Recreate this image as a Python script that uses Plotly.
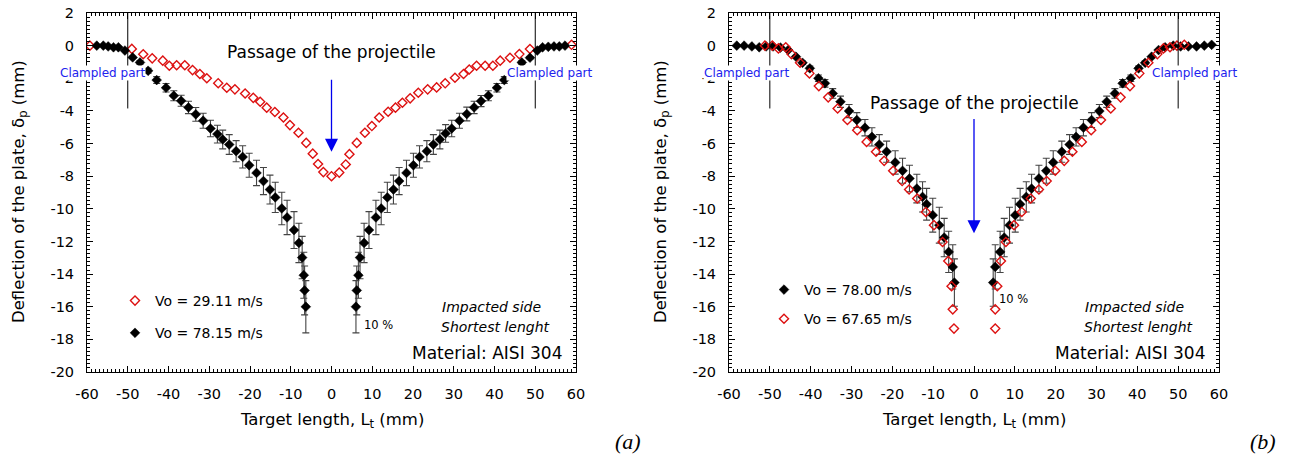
import plotly.graph_objects as go

# ---------------- data ----------------
# Panel (a)
A_RED_NAME = "Vo = 29.11 m/s"
A_RED_X = [-59.3, -49.0, -46.2, -44.0, -41.4, -39.8, -38.0, -36.0, -34.1, -32.3, -30.6, -27.8, -25.7,
           -23.7, -21.2, -19.2, -17.5, -15.9, -13.9, -11.8, -10.2, -8.1, -6.2, -4.6, -3.3, -2.0, 0.0,
           1.9, 3.5, 4.4, 6.2, 8.2, 9.9, 11.7, 13.9, 15.7, 17.4, 19.3, 21.3, 23.6, 25.8, 27.9, 30.3,
           32.4, 33.8, 35.6, 37.7, 39.6, 41.4, 43.8, 46.1, 48.7, 58.9]
A_RED_Y = [0.0, -0.2, -0.53, -0.78, -0.92, -1.23, -1.2, -1.2, -1.5, -1.74, -2.0, -2.3, -2.58,
           -2.68, -2.93, -3.2, -3.44, -3.8, -4.07, -4.4, -4.87, -5.34, -5.96, -6.62, -7.25, -7.75, -8.0,
           -7.78, -7.28, -6.65, -5.96, -5.34, -4.93, -4.4, -4.05, -3.8, -3.5, -3.23, -2.89, -2.68, -2.56,
           -2.31, -1.97, -1.74, -1.46, -1.23, -1.23, -1.23, -0.92, -0.74, -0.52, -0.21, 0.05]

A_BLK_NAME = "Vo = 78.15 m/s"
A_BLK_X = [-57.6, -56.0, -54.8, -53.5, -52.3, -50.7, -48.8, -47.0, -45.0, -42.9, -40.6, -38.7, -36.9,
           -35.1, -33.3, -31.5, -29.7, -28.0, -26.7, -25.1, -23.4, -21.8, -20.2, -18.4, -16.7, -15.1,
           -13.8, -12.2, -10.9, -9.2, -8.0, -7.2, -6.8, -6.6, -6.3,
           6.0, 6.2, 6.6, 7.0, 8.0, 9.2, 10.9, 12.2, 13.7, 15.2, 16.6, 18.4, 20.1, 21.6, 23.4, 25.0,
           26.6, 28.0, 29.5, 31.4, 33.2, 35.0, 36.7, 38.5, 40.6, 42.4, 44.6, 46.7, 48.7, 50.5, 51.8,
           53.2, 54.6, 55.9, 57.3]
A_BLK_Y = [0.0, 0.0, -0.05, -0.1, -0.1, -0.3, -0.72, -1.03, -1.54, -2.11, -2.58, -3.07, -3.38,
           -3.79, -4.21, -4.6, -5.08, -5.42, -5.75, -6.06, -6.47, -6.82, -7.33, -7.8, -8.3, -8.82,
           -9.3, -9.98, -10.53, -11.3, -12.09, -12.99, -14.07, -15.0, -16.0,
           -16.0, -15.0, -14.07, -12.99, -12.09, -11.3, -10.53, -9.98, -9.3, -8.82, -8.3, -7.8, -7.33,
           -6.82, -6.47, -6.06, -5.75, -5.38, -5.08, -4.6, -4.19, -3.79, -3.4, -3.07, -2.58, -2.11,
           -1.55, -1.03, -0.74, -0.3, -0.1, -0.07, -0.05, -0.05, 0.0]

# Panel (b)
B_BLK_NAME = "Vo = 78.00 m/s"
B_BLK_X = [-58.1, -56.3, -54.4, -52.6, -50.9, -49.2, -47.4, -45.5, -43.6, -42.0, -40.2, -38.1, -36.5,
           -34.6, -32.7, -30.6, -28.7, -26.7, -25.0, -23.2, -21.4, -19.3, -17.5, -15.8, -14.0, -12.6,
           -11.6, -10.1, -8.5, -7.3, -6.2, -5.2, -4.8,
           4.7, 5.2, 6.4, 7.4, 8.7, 10.1, 11.3, 12.8, 14.1, 15.9, 17.7, 19.4, 21.5, 23.4, 25.0, 26.8,
           28.8, 30.7, 32.5, 34.5, 36.4, 38.4, 40.3, 41.9, 43.5, 45.2, 46.8, 48.8, 50.6, 52.5, 54.5,
           56.4, 58.2]
B_BLK_Y = [0.0, 0.0, -0.05, -0.1, -0.05, -0.05, -0.12, -0.27, -0.68, -1.05, -1.39, -2.0, -2.31,
           -2.93, -3.44, -4.01, -4.56, -5.03, -5.59, -6.06, -6.5, -7.16, -7.67, -8.14, -8.76, -9.27,
           -9.72, -10.39, -11.0, -11.76, -12.64, -13.56, -14.52,
           -14.52, -13.56, -12.64, -11.76, -11.0, -10.39, -9.72, -9.27, -8.76, -8.14, -7.67, -7.16,
           -6.5, -6.06, -5.59, -5.03, -4.56, -4.01, -3.44, -2.93, -2.31, -2.0, -1.39, -1.05, -0.68,
           -0.27, -0.1, 0.0, -0.05, -0.05, -0.05, 0.0, 0.05]

B_RED_NAME = "Vo = 67.65 m/s"
B_RED_X = [-51.2, -49.4, -47.9, -46.1, -44.7, -42.6, -40.3, -38.0, -35.7, -33.4, -31.0, -28.6, -26.3,
           -24.0, -22.0, -19.8, -17.6, -15.9, -13.9, -11.8, -9.8, -7.7, -6.3, -5.5, -5.2, -4.9,
           5.2, 5.2, 5.7, 6.6, 7.8, 9.8, 11.7, 13.9, 15.9, 17.8, 19.9, 22.1, 24.1, 26.4, 28.7, 31.1,
           33.5, 35.9, 38.2, 40.5, 42.7, 44.9, 46.4, 48.0, 49.7, 51.5]
B_RED_Y = [0.0, 0.0, -0.17, -0.1, -0.52, -1.05, -1.7, -2.48, -3.17, -3.85, -4.56, -5.18, -5.9,
           -6.5, -7.06, -7.67, -8.3, -8.82, -9.37, -10.19, -11.0, -12.03, -13.2, -14.74, -16.16, -17.34,
           -17.34, -16.16, -14.74, -13.2, -12.03, -11.0, -10.19, -9.37, -8.82, -8.3, -7.67, -7.06,
           -6.5, -5.9, -5.18, -4.56, -3.85, -3.17, -2.48, -1.7, -1.05, -0.52, -0.17, -0.1, 0.0, 0.05]

ERR_PERCENT = 10
X_TICKS = list(range(-60, 61, 10))
Y_TICKS = list(range(-20, 3, 2))
X_TICKTEXT = [str(v) for v in X_TICKS]
Y_TICKTEXT = [str(v) for v in Y_TICKS]
CLAMP_X = [-50, 50]

# ---------------- style ----------------
W, H = 1296, 454
FONT = "DejaVu Sans, Verdana, sans-serif"
RED = "#dd1111"
BLUE = "#0000ee"
TXT_BLUE = "#2222ee"


def px(x):
    return x / W


def py(y):
    return (H - y) / H


fig = go.Figure()


def add_red(xs, ys, name, xa, ya, leg):
    fig.add_trace(go.Scatter(
        x=xs, y=ys, name=name, mode="markers", xaxis=xa, yaxis=ya, legend=leg,
        legendgroup=name,
        marker=dict(symbol="diamond-open", size=7, color=RED, line=dict(width=1.4, color=RED)),
    ))


def add_blk(xs, ys, name, xa, ya, leg):
    fig.add_trace(go.Scatter(
        x=xs, y=ys, name=name, mode="markers", xaxis=xa, yaxis=ya, legend=leg,
        legendgroup=name,
        marker=dict(symbol="diamond", size=7.5, color="black", line=dict(width=0.5, color="black")),
        error_y=dict(type="percent", value=ERR_PERCENT, symmetric=True, color="#444444",
                     thickness=1.1, width=3.5),
    ))


add_red(A_RED_X, A_RED_Y, A_RED_NAME, "x", "y", "legend")
add_blk(A_BLK_X, A_BLK_Y, A_BLK_NAME, "x", "y", "legend")
add_blk(B_BLK_X, B_BLK_Y, B_BLK_NAME, "x2", "y2", "legend2")
add_red(B_RED_X, B_RED_Y, B_RED_NAME, "x2", "y2", "legend2")

ydom = [py(372), py(13)]
axis_common = dict(
    showline=True, linecolor="black", linewidth=1, mirror="ticks",
    ticks="inside", ticklen=6, tickwidth=1, tickcolor="black",
    showgrid=False, zeroline=False, automargin=False, ticklabeloverflow="allow",
    tickfont=dict(family=FONT, size=14.5, color="black"),
)
xcommon = dict(axis_common, range=[-60, 60], tickvals=X_TICKS, ticktext=X_TICKTEXT,
               ticklabelstandoff=9,
               minor=dict(dtick=1, ticks="inside", ticklen=3, tickcolor="black", showgrid=False))
ycommon = dict(axis_common, range=[-20, 2], tickvals=Y_TICKS, ticktext=Y_TICKTEXT,
               ticklabelstandoff=9,
               minor=dict(dtick=0.25, ticks="inside", ticklen=3, tickcolor="black", showgrid=False))

fig.update_layout(
    width=W, height=H,
    margin=dict(l=0, r=0, t=0, b=0, autoexpand=False),
    paper_bgcolor="white", plot_bgcolor="white",
    font=dict(family=FONT, color="black"),
    xaxis=dict(xcommon, domain=[px(87), px(576)], anchor="y"),
    yaxis=dict(ycommon, domain=ydom, anchor="x"),
    xaxis2=dict(xcommon, domain=[px(729), px(1219)], anchor="y2"),
    yaxis2=dict(ycommon, domain=ydom, anchor="x2"),
    legend=dict(x=px(115), y=py(285), xanchor="left", yanchor="top",
                font=dict(family=FONT, size=14, color="black"), bgcolor="rgba(0,0,0,0)",
                tracegroupgap=11, itemsizing="trace"),
    legend2=dict(x=px(764), y=py(274), xanchor="left", yanchor="top",
                 font=dict(family=FONT, size=14, color="black"), bgcolor="rgba(0,0,0,0)",
                 tracegroupgap=8, itemsizing="trace"),
)

annotations = []
shapes = []


def ptext(x, y, text, size, xanchor="center", family=FONT, angle=0):
    annotations.append(dict(xref="paper", yref="paper", x=px(x), y=py(y), text=text,
                            showarrow=False, xanchor=xanchor, yanchor="middle",
                            textangle=angle, font=dict(family=family, size=size, color="black")))


panels = [
    dict(xa="x", ya="y", left=87, right=576, arrow_tail=-2.0, arrow_head=-6.5, pass_y=-0.4,
         clamp_lx=-56.1, clamp_rx=53.6, pct_x=7.4, pct_y=-17.1, label="(a)", label_x=628),
    dict(xa="x2", ya="y2", left=729, right=1219, arrow_tail=-4.4, arrow_head=-11.5, pass_y=-3.5,
         clamp_lx=-55.8, clamp_rx=53.9, pct_x=5.6, pct_y=-15.55, label="(b)", label_x=1263),
]
for p in panels:
    xa, ya = p["xa"], p["ya"]
    cx = (p["left"] + p["right"]) / 2
    # axis titles
    ptext(cx, 420, "Target length, L<sub>t</sub> (mm)", 16.5)
    ptext(p["left"] - 67, 192, "Deflection of the plate, δ<sub>p</sub> (mm)", 16.5, angle=-90)
    # passage text + arrow
    annotations.append(dict(xref=xa, yref=ya, x=0, y=p["pass_y"], showarrow=False,
                            xanchor="center", yanchor="middle",
                            text="Passage of the projectile",
                            font=dict(family=FONT, size=17, color="black")))
    annotations.append(dict(xref=xa, yref=ya, x=0, y=p["arrow_head"], axref=xa, ayref=ya,
                            ax=0, ay=p["arrow_tail"], text="", showarrow=True, arrowhead=2,
                            arrowsize=2.0, arrowwidth=1.3, arrowcolor=BLUE, standoff=0))
    # clamp lines
    for cxv in CLAMP_X:
        shapes.append(dict(type="line", xref=xa, yref=ya, x0=cxv, x1=cxv, y0=2, y1=-3.85,
                           line=dict(color="black", width=1)))
    for lx in (p["clamp_lx"], p["clamp_rx"]):
        annotations.append(dict(xref=xa, yref=ya, x=lx, y=-1.7, showarrow=False,
                                xanchor="center", yanchor="middle",
                                text="Clampled part", bgcolor="white", borderpad=0,
                                font=dict(family=FONT, size=12, color=TXT_BLUE)))
    # 10 %
    annotations.append(dict(xref=xa, yref=ya, x=p["pct_x"], y=p["pct_y"], xanchor="left",
                            yanchor="middle", showarrow=False, text="10 %",
                            font=dict(family=FONT, size=11.5, color="black")))
    # info texts
    ptext(p["right"] - 33, 307, "<i>Impacted side</i>", 14, xanchor="right")
    ptext(p["right"] - 24, 327, "<i>Shortest lenght</i>", 14, xanchor="right")
    ptext(p["right"] - 11, 353, "Material: AISI 304", 17, xanchor="right")
    ptext(p["label_x"], 441, "<i>" + p["label"] + "</i>", 22,
          family="Liberation Serif, Times New Roman, serif")

fig.update_layout(annotations=annotations, shapes=shapes)
# remove the default 8px page margin so the figure sits exactly in the window
fig.write_html("out.html", config={"displayModeBar": False},
               post_script="document.body.style.margin='0px';")
